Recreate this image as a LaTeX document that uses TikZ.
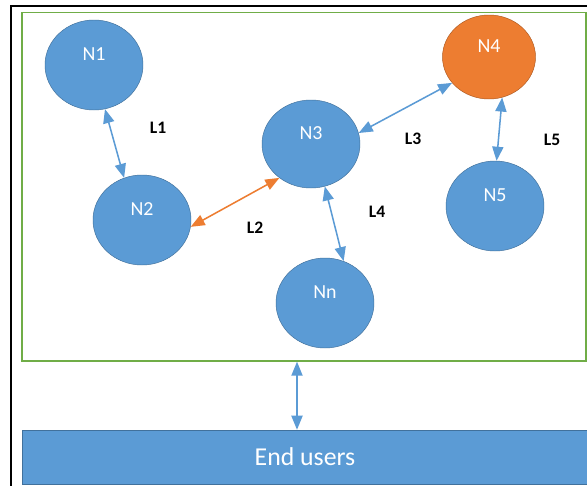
\documentclass[tikz,border=0pt]{standalone}
\usepackage{fontspec}
\setmainfont{Carlito}
\setsansfont{Carlito}
\usetikzlibrary{arrows.meta,shapes.geometric}
\definecolor{nodeblue}{HTML}{5B9BD5}
\definecolor{nodeedge}{HTML}{41719C}
\definecolor{hotorange}{HTML}{ED7D31}
\definecolor{hotedge}{HTML}{AE5A21}
\definecolor{netgreen}{HTML}{70AD47}

\begin{document}
\begin{tikzpicture}[x=0.3mm,y=-0.3mm,font=\sffamily,>={Triangle[length=12pt,width=9.5pt]}]
    \tikzstyle{peer}=[ellipse,draw=nodeedge,fill=nodeblue,text=white,font=\sffamily\fontsize{17}{17}\selectfont,minimum width=29.4mm,minimum height=27mm,inner sep=0pt,text height=11pt,text depth=18pt]
    \tikzstyle{link}=[<->,draw=nodeblue,fill=nodeblue,line width=1.3pt]
    \tikzstyle{tag}=[font=\sffamily\bfseries\fontsize{15}{15}\selectfont]
    \useasboundingbox (0,0) rectangle (587,486);
    \fill[white] (0,0) rectangle (587,486);
    \draw[line width=2.5pt] (11,490) |- (600,6);
    \node[draw=netgreen,line width=1.3pt,minimum width=169.2mm,minimum height=104.5mm,inner sep=0pt] (net) at (304,186.75) {};
    \node[peer] (n1) at (94,65) {N1};
    \node[peer] (n2) at (142,220) {N2};
    \node[peer,minimum height=26.4mm] (n3) at (311,144) {N3};
    \node[peer,draw=hotedge,fill=hotorange,minimum width=27.9mm,minimum height=25.2mm] (n4) at (489,57) {N4};
    \node[peer] (n5) at (495,206) {N5};
    \node[peer] (nn) at (325,303) {Nn};
    \node[draw=nodeedge,fill=nodeblue,text=white,font=\sffamily\fontsize{22}{22}\selectfont,minimum width=169.8mm,minimum height=16.2mm,inner sep=0pt] (users) at (305,457) {End users};
    \coordinate (gate) at (297,0);% where the users link leaves the box
    \node[tag] (l1) at (158,128) {L1};
    \node[tag] (l2) at (255,228) {L2};
    \node[tag] (l3) at (413,139) {L3};
    \node[tag] (l4) at (377,212) {L4};
    \node[tag] (l5) at (552,140) {L5};
    \draw[link] (n1.-76) -- (n2.113);
    \draw[link,draw=hotorange,fill=hotorange] (n2.-8) -- (n3.-133);
    \draw[link] (n3.13) -- (n4.-145);
    \draw[link] (n3.-72) -- (nn.66);
    \draw[link] (n4.-72) -- (n5.88);
    \draw[link] (net.south -| gate) -- (users.north -| gate);
  \end{tikzpicture}
\end{document}
